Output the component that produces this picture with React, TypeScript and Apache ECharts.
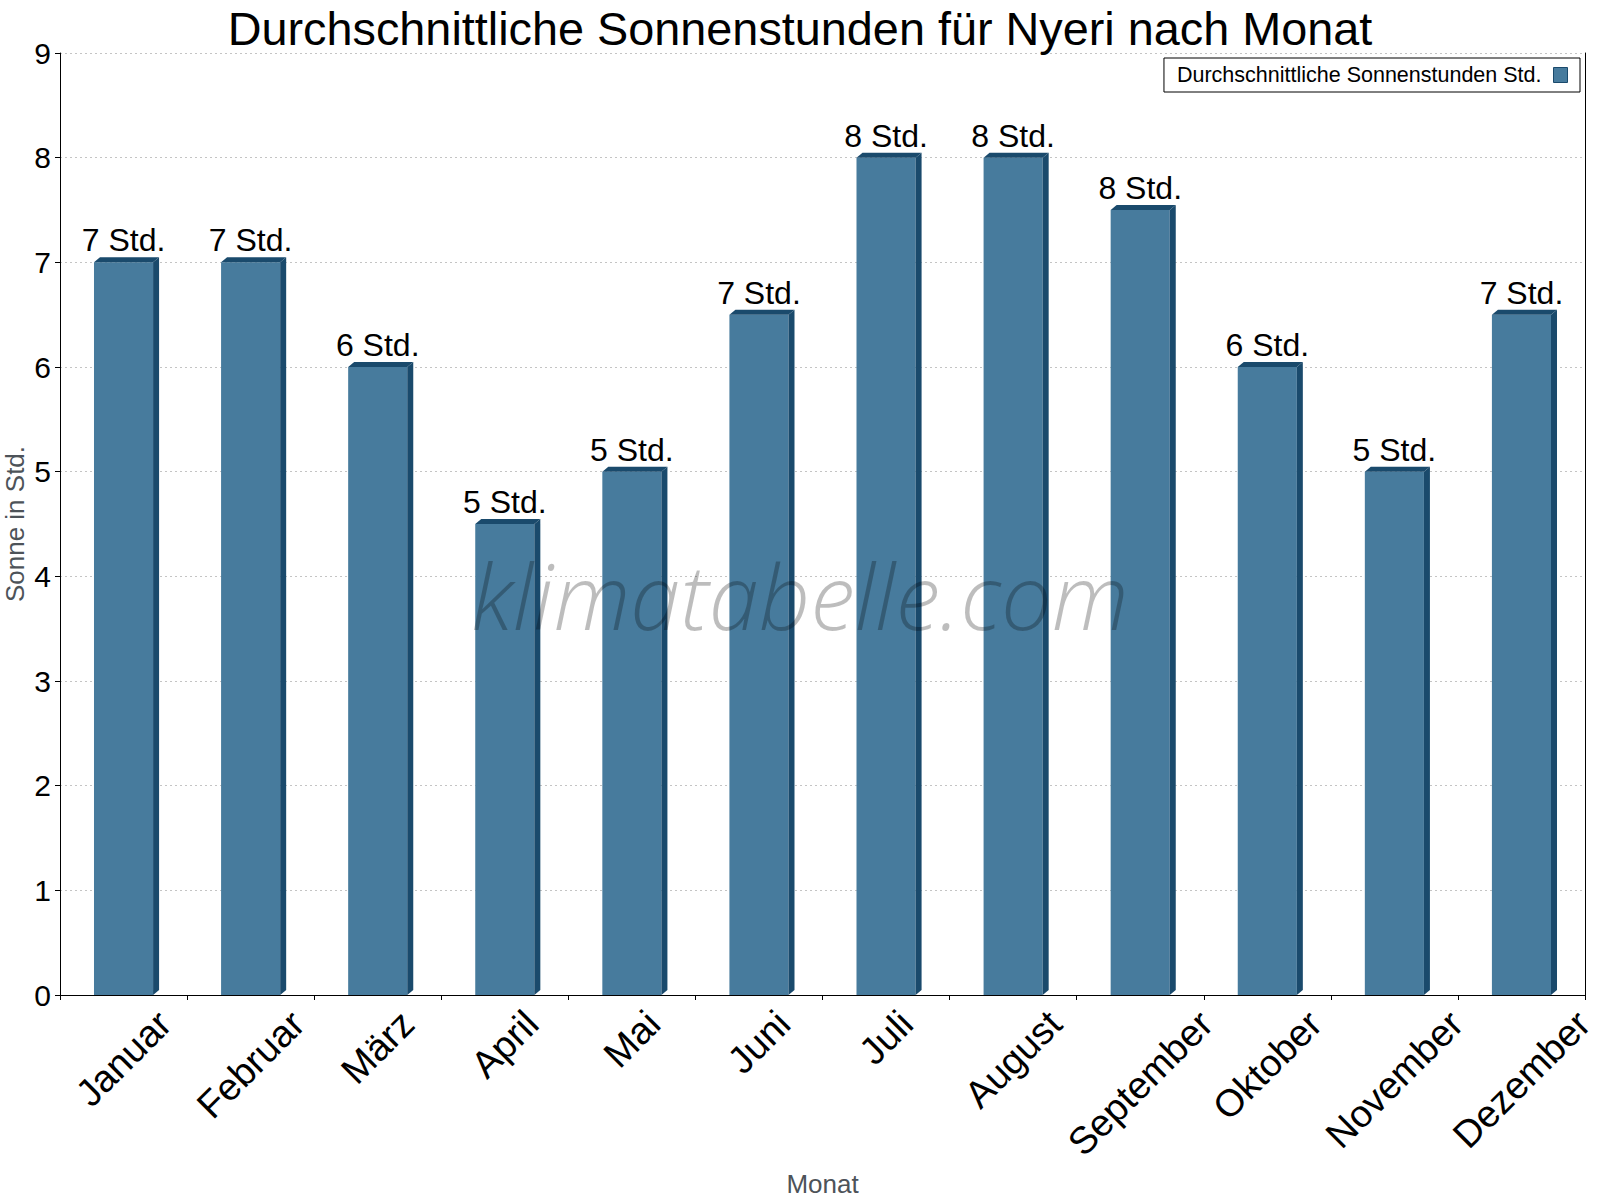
import React, { useEffect, useRef } from "react";
import * as echarts from "echarts";

// Average daily sunshine hours per month
const months = [
  "Januar",
  "Februar",
  "März",
  "April",
  "Mai",
  "Juni",
  "Juli",
  "August",
  "September",
  "Oktober",
  "November",
  "Dezember",
];
const sunHours = [7, 7, 6, 4.5, 5, 6.5, 8, 8, 7.5, 6, 5, 6.5];
const yMin = 0;
const yMax = 9;
const yStep = 1;

const titleText = "Durchschnittliche Sonnenstunden für Nyeri nach Monat";
const seriesName = "Durchschnittliche Sonnenstunden Std.";
const unit = "Std.";
const xAxisName = "Monat";
const yAxisName = "Sonne in Std.";
const watermark = "klimatabelle.com";

const FONT = '"Liberation Sans", Arial, Helvetica, sans-serif';
const FRONT = "#477b9d";
const DARK = "#1a4a6c";
const CAT_FONT = 38;
const VALUE_FONT = 32;

let measureCtx: CanvasRenderingContext2D | null = null;
function textWidth(text: string, size: number): number {
  if (!measureCtx) {
    measureCtx = document.createElement("canvas").getContext("2d");
  }
  if (!measureCtx) return text.length * size * 0.55;
  measureCtx.font = `${size}px ${FONT}`;
  return measureCtx.measureText(text).width;
}

export default function App() {
  const ref = useRef<HTMLDivElement>(null);

  useEffect(() => {
    if (!ref.current) return;
    const chart = echarts.init(ref.current, null, { renderer: "svg" });

    const renderItem = (params: any, api: any) => {
      const idx = api.value(0) as number;
      const val = api.value(1) as number;
      const top = api.coord([idx, val]);
      const base = api.coord([idx, 0]);
      const band = api.size([1, 0])[0];
      const fw = band * 0.465;
      const dx = 6;
      const dy = 5;
      const cx = top[0];
      const x0 = cx - fw / 2;
      const x1 = cx + fw / 2;
      const yT = top[1];
      const yB = base[1];
      const name = months[idx];
      const lw = textWidth(name, CAT_FONT);
      const half = (Math.SQRT1_2 * (lw + CAT_FONT)) / 2;
      return {
        type: "group",
        children: [
          {
            type: "rect",
            shape: { x: x0, y: yT, width: fw, height: yB - yT },
            style: { fill: FRONT },
          },
          {
            type: "polygon",
            shape: {
              points: [
                [x1, yT],
                [x1 + dx, yT - dy],
                [x1 + dx, yB - dy],
                [x1, yB],
              ],
            },
            style: { fill: DARK },
          },
          {
            type: "polygon",
            shape: {
              points: [
                [x0, yT],
                [x0 + dx, yT - dy],
                [x1 + dx, yT - dy],
                [x1, yT],
              ],
            },
            style: { fill: DARK },
          },
          {
            type: "text",
            x: cx,
            y: yT - dy - 1,
            style: {
              text: `${Math.round(val)} ${unit}`,
              fontSize: VALUE_FONT,
              fontFamily: FONT,
              fill: "#000",
              align: "center",
              verticalAlign: "bottom",
            },
          },
          {
            type: "text",
            x: cx,
            y: yB + 9 + half,
            rotation: Math.PI / 4,
            style: {
              text: name,
              fontSize: CAT_FONT,
              fontFamily: FONT,
              fill: "#000",
              align: "center",
              verticalAlign: "middle",
            },
          },
        ],
      };
    };

    chart.setOption({
      animation: false,
      backgroundColor: "#ffffff",
      textStyle: { fontFamily: FONT },
      title: {
        text: titleText,
        left: "center",
        top: 0,
        textStyle: {
          fontSize: 46.8,
          fontWeight: "normal",
          color: "#000",
          fontFamily: FONT,
        },
      },
      legend: {
        data: [seriesName],
        right: 20,
        top: 58,
        icon: "rect",
        itemWidth: 14,
        itemHeight: 15,
        align: "right",
        padding: [6, 12, 6, 13],
        backgroundColor: "#fff",
        borderColor: "#000",
        borderWidth: 1,
        borderRadius: 0,
        itemStyle: { borderColor: DARK, borderWidth: 1 },
        textStyle: {
          fontSize: 21.5,
          color: "#000",
          fontFamily: FONT,
          padding: [0, 7, 0, 0],
        },
      },
      grid: {
        left: 60,
        right: 15,
        top: 53,
        bottom: 205,
        containLabel: false,
        outerBoundsMode: "none",
      },
      xAxis: {
        type: "category",
        data: months,
        name: xAxisName,
        nameLocation: "middle",
        nameGap: 176,
        nameMoveOverlap: false,
        nameTextStyle: { fontSize: 26, color: "#4d5359", fontFamily: FONT },
        axisLine: { show: true, lineStyle: { color: "#000", width: 1 } },
        axisTick: { show: true, length: 5, lineStyle: { color: "#000" } },
        axisLabel: { show: false },
        splitLine: { show: false },
      },
      yAxis: [
        {
          type: "value",
          min: yMin,
          max: yMax,
          interval: yStep,
          name: yAxisName,
          nameLocation: "middle",
          nameGap: 32,
          nameRotate: 90,
          nameMoveOverlap: false,
          nameTextStyle: { fontSize: 26, color: "#4d5359", fontFamily: FONT },
          axisLine: { show: true, lineStyle: { color: "#000", width: 1 } },
          axisTick: { show: true, length: 5, lineStyle: { color: "#000" } },
          axisLabel: {
            fontSize: 30,
            color: "#000",
            margin: 9,
            fontFamily: FONT,
          },
          splitLine: {
            show: true,
            lineStyle: { color: "#c4c4c4", type: [2, 3], width: 1 },
          },
        },
        {
          type: "value",
          position: "right",
          min: yMin,
          max: yMax,
          interval: yStep,
          axisLine: { show: true, lineStyle: { color: "#000", width: 1 } },
          axisTick: { show: false },
          axisLabel: { show: false },
          splitLine: { show: false },
        },
      ],
      series: [
        {
          name: seriesName,
          type: "custom",
          clip: false,
          itemStyle: { color: FRONT },
          encode: { x: 0, y: 1 },
          data: months.map((_, i) => [i, sunHours[i]]),
          renderItem,
          z: 3,
        },
      ],
      graphic: [
        {
          type: "text",
          x: 800,
          y: 595,
          z: 100,
          silent: true,
          style: {
            text: watermark,
            fontSize: 90,
            fontFamily: '"Open Sans", Roboto, sans-serif',
            fontWeight: 300,
            fontStyle: "italic",
            fill: "rgba(0,0,0,0.26)",
            align: "center",
            verticalAlign: "middle",
          },
        },
      ],
    });

    return () => chart.dispose();
  }, []);

  return (
    <div
      ref={ref}
      style={{ position: "absolute", left: 0, top: 0, width: 1600, height: 1200 }}
    />
  );
}
